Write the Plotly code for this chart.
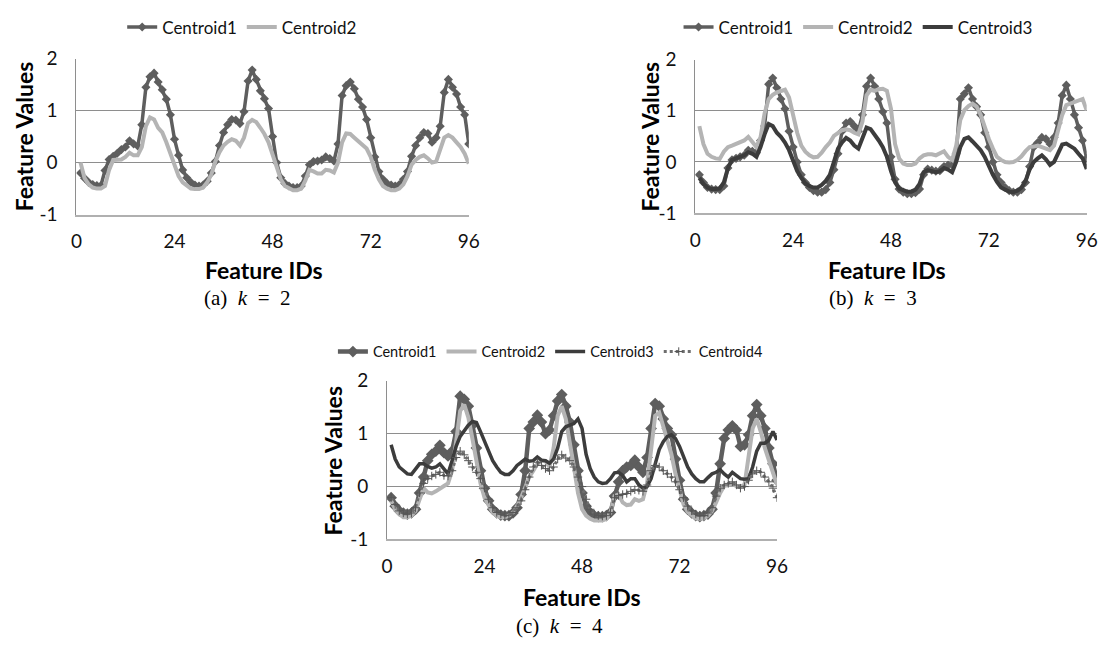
import plotly.graph_objects as go

W, H = 1110, 653

feature_ids = list(range(1, 97))
x_ticks = [0, 24, 48, 72, 96]
y_ticks = [-1, 0, 1, 2]
y_tick_text = ["-1", "0", "1", "2"]

# ---- k = 2 ----
k2_centroid1 = [
    -0.2, -0.3, -0.38, -0.42, -0.44, -0.44, -0.15, 0.06, 0.12, 0.18,
    0.25, 0.3, 0.42, 0.36, 0.32, 0.73, 1.45, 1.65, 1.72, 1.55,
    1.4, 1.22, 0.92, 0.45, 0.14, -0.14, -0.29, -0.38, -0.43, -0.45,
    -0.43, -0.36, -0.2, 0.02, 0.33, 0.58, 0.73, 0.83, 0.82, 0.75,
    0.98, 1.57, 1.78, 1.6, 1.38, 1.23, 1.04, 0.5, 0.0, -0.29,
    -0.4, -0.45, -0.48, -0.48, -0.45, -0.26, -0.04, 0.02, 0.03, 0.05,
    0.11, 0.08, 0.03, 0.36, 1.29, 1.48, 1.55, 1.42, 1.22, 1.07,
    0.83, 0.48, 0.11, -0.17, -0.32, -0.4, -0.43, -0.45, -0.42, -0.32,
    -0.17, 0.12, 0.33, 0.48, 0.58, 0.56, 0.39, 0.48, 0.7, 1.35,
    1.6, 1.45, 1.32, 1.07, 0.92, 0.36,
]
k2_centroid2 = [
    0.0, -0.3, -0.42, -0.48, -0.5, -0.5, -0.45, -0.14, 0.05, 0.06,
    0.06, 0.11, 0.19, 0.14, 0.14, 0.3, 0.7, 0.87, 0.83, 0.67,
    0.58, 0.39, 0.17, -0.07, -0.26, -0.38, -0.45, -0.5, -0.51, -0.51,
    -0.48, -0.38, -0.23, 0.02, 0.2, 0.33, 0.4, 0.45, 0.42, 0.33,
    0.48, 0.76, 0.82, 0.78, 0.67, 0.55, 0.39, 0.17, -0.1, -0.32,
    -0.45, -0.5, -0.53, -0.53, -0.5, -0.35, -0.14, -0.17, -0.21, -0.21,
    -0.14, -0.15, -0.19, 0.0, 0.39, 0.56, 0.55, 0.48, 0.41, 0.35,
    0.27, 0.11, -0.14, -0.32, -0.45, -0.5, -0.53, -0.53, -0.5, -0.42,
    -0.26, -0.04, 0.05, 0.11, 0.14, 0.08, 0.0, 0.02, 0.24, 0.48,
    0.53, 0.48, 0.39, 0.3, 0.17, -0.02,
]

# ---- k = 3 ----
k3_centroid1 = [
    -0.25, -0.4, -0.5, -0.53, -0.54, -0.54, -0.47, -0.12, 0.04, 0.07,
    0.1, 0.13, 0.23, 0.21, 0.18, 0.42, 0.7, 1.52, 1.64, 1.45,
    1.23, 1.04, 0.6, 0.29, 0.0, -0.25, -0.4, -0.5, -0.56, -0.59,
    -0.59, -0.54, -0.4, -0.15, 0.16, 0.6, 0.76, 0.79, 0.7, 0.6,
    0.92, 1.48, 1.64, 1.48, 1.23, 0.98, 0.76, 0.1, -0.34, -0.53,
    -0.59, -0.62, -0.62, -0.6, -0.53, -0.25, -0.14, -0.16, -0.18, -0.17,
    -0.09, -0.06, -0.06, 0.16, 1.23, 1.33, 1.45, 1.23, 1.08, 0.92,
    0.57, 0.29, 0.0, -0.25, -0.4, -0.5, -0.56, -0.59, -0.59, -0.54,
    -0.4, -0.09, 0.29, 0.38, 0.48, 0.45, 0.35, 0.48, 0.76, 1.3,
    1.5, 1.23, 0.92, 0.67, 0.42, 0.07,
]
k3_centroid2 = [
    0.7, 0.35, 0.16, 0.1, 0.07, 0.06, 0.2, 0.29, 0.32, 0.36,
    0.4, 0.42, 0.49, 0.38, 0.29, 0.48, 0.95, 1.23, 1.31, 1.36,
    1.39, 1.41, 1.26, 0.92, 0.57, 0.32, 0.2, 0.13, 0.09, 0.1,
    0.18, 0.29, 0.38, 0.51, 0.57, 0.62, 0.64, 0.62, 0.57, 0.54,
    0.79, 1.3, 1.41, 1.39, 1.42, 1.43, 1.39, 1.04, 0.35, 0.07,
    -0.03, -0.06, -0.06, -0.03, 0.07, 0.13, 0.15, 0.15, 0.13, 0.16,
    0.21, 0.1, 0.04, 0.32, 0.82, 1.01, 1.09, 1.14, 1.08, 0.92,
    0.67, 0.45, 0.26, 0.1, 0.04, 0.0, -0.01, 0.0, 0.04, 0.11,
    0.21, 0.29, 0.3, 0.32, 0.29, 0.26, 0.23, 0.32, 0.6, 0.92,
    1.11, 1.14, 1.17, 1.2, 1.23, 1.01,
]
k3_centroid3 = [
    -0.31, -0.43, -0.5, -0.53, -0.53, -0.52, -0.4, -0.12, 0.04, 0.07,
    0.09, 0.13, 0.19, 0.16, 0.1, 0.29, 0.54, 0.74, 0.7, 0.57,
    0.49, 0.38, 0.23, 0.0, -0.18, -0.31, -0.42, -0.47, -0.5, -0.5,
    -0.45, -0.37, -0.25, 0.0, 0.26, 0.38, 0.47, 0.42, 0.32, 0.26,
    0.45, 0.67, 0.64, 0.54, 0.42, 0.29, 0.1, -0.18, -0.4, -0.52,
    -0.56, -0.58, -0.58, -0.54, -0.43, -0.2, -0.16, -0.18, -0.2, -0.18,
    -0.12, -0.15, -0.2, 0.0, 0.29, 0.45, 0.48, 0.4, 0.32, 0.23,
    0.1, -0.09, -0.25, -0.39, -0.5, -0.54, -0.58, -0.59, -0.56, -0.5,
    -0.37, -0.15, 0.0, 0.07, 0.13, 0.05, -0.06, 0.0, 0.19, 0.34,
    0.36, 0.32, 0.26, 0.16, 0.07, -0.14,
]

# ---- k = 4 ----
k4_centroid1 = [
    -0.21, -0.37, -0.46, -0.5, -0.52, -0.5, -0.43, -0.12, 0.18, 0.49,
    0.61, 0.67, 0.78, 0.64, 0.58, 0.67, 1.04, 1.71, 1.65, 1.52,
    1.16, 0.73, 0.3, -0.03, -0.27, -0.43, -0.5, -0.54, -0.55, -0.55,
    -0.5, -0.4, -0.15, 0.3, 1.1, 1.22, 1.35, 1.22, 1.0, 1.07,
    1.34, 1.62, 1.74, 1.52, 1.22, 0.79, 0.3, -0.12, -0.37, -0.49,
    -0.55, -0.57, -0.57, -0.55, -0.49, -0.18, 0.09, 0.3, 0.37, 0.4,
    0.5, 0.37, 0.27, 0.55, 1.1, 1.57, 1.52, 1.28, 1.1, 0.98,
    0.52, 0.12, -0.24, -0.43, -0.5, -0.55, -0.57, -0.55, -0.52, -0.43,
    -0.12, 0.43, 0.91, 1.07, 1.15, 1.07, 0.76, 0.79, 0.98, 1.34,
    1.55, 1.34, 1.1, 0.73, 0.43, 0.12,
]
k4_centroid2 = [
    -0.27, -0.43, -0.52, -0.58, -0.58, -0.55, -0.46, -0.27, -0.03, -0.11,
    -0.13, -0.09, -0.03, 0.01, 0.06, 0.3, 0.85, 1.43, 1.55, 1.31,
    0.91, 0.46, 0.06, -0.21, -0.37, -0.49, -0.55, -0.58, -0.58, -0.55,
    -0.49, -0.37, -0.21, 0.0, 0.18, 0.3, 0.43, 0.49, 0.48, 0.37,
    0.73, 1.34, 1.52, 1.28, 0.85, 0.37, -0.12, -0.43, -0.55, -0.61,
    -0.64, -0.64, -0.64, -0.61, -0.49, -0.18, -0.15, -0.3, -0.35, -0.34,
    -0.24, -0.27, -0.24, 0.06, 0.73, 1.34, 1.4, 1.13, 0.88, 0.61,
    0.24, -0.09, -0.34, -0.48, -0.55, -0.6, -0.61, -0.6, -0.55, -0.46,
    -0.3, -0.12, 0.01, 0.03, 0.05, 0.01, 0.0, 0.03, 0.61, 1.1,
    1.28, 1.04, 0.73, 0.49, 0.24, 0.03,
]
k4_centroid3 = [
    0.79, 0.52, 0.37, 0.3, 0.24, 0.23, 0.34, 0.43, 0.43, 0.38,
    0.35, 0.37, 0.43, 0.34, 0.24, 0.49, 0.76, 0.95, 1.07, 1.16,
    1.23, 1.21, 1.04, 0.85, 0.64, 0.49, 0.37, 0.27, 0.23, 0.23,
    0.3, 0.4, 0.46, 0.52, 0.48, 0.49, 0.56, 0.5, 0.49, 0.44,
    0.52, 0.73, 1.04, 1.13, 1.16, 1.19, 1.28, 1.1, 0.61, 0.34,
    0.18, 0.09, 0.06, 0.07, 0.15, 0.26, 0.27, 0.21, 0.09, 0.15,
    0.15, 0.03, -0.03, 0.0, 0.15, 0.43, 0.7, 0.85, 0.95, 0.98,
    0.91, 0.76, 0.55, 0.37, 0.24, 0.15, 0.09, 0.09, 0.17, 0.24,
    0.27, 0.32, 0.24, 0.18, 0.27, 0.2, 0.15, 0.14, 0.15, 0.37,
    0.67, 0.82, 0.82, 0.88, 1.04, 0.88,
]
k4_centroid4 = [
    -0.21, -0.34, -0.46, -0.5, -0.52, -0.5, -0.4, -0.12, 0.06, 0.15,
    0.2, 0.23, 0.27, 0.21, 0.2, 0.3, 0.55, 0.67, 0.6, 0.49,
    0.37, 0.27, 0.15, -0.03, -0.24, -0.4, -0.49, -0.52, -0.55, -0.54,
    -0.49, -0.4, -0.27, -0.06, 0.18, 0.37, 0.46, 0.4, 0.34, 0.3,
    0.37, 0.52, 0.6, 0.54, 0.49, 0.37, 0.18, 0.0, -0.24, -0.43,
    -0.52, -0.55, -0.56, -0.55, -0.49, -0.21, -0.17, -0.15, -0.13, -0.09,
    -0.06, -0.07, -0.09, 0.03, 0.3, 0.4, 0.37, 0.3, 0.24, 0.18,
    0.09, -0.06, -0.21, -0.37, -0.46, -0.52, -0.55, -0.55, -0.5, -0.4,
    -0.18, -0.03, 0.03, 0.06, 0.09, 0.03, -0.03, 0.0, 0.12, 0.24,
    0.3, 0.27, 0.18, 0.09, -0.03, -0.21,
]

DARK_GRAY = "#5e5e5e"
LIGHT_GRAY = "#b4b4b4"
DARKEST = "#3c3c3c"
DOT_GRAY = "#6e6e6e"
TICK_FONT = dict(family="Lato", size=19, color="#111111")


def px(x):
    return x / W


def py(y):
    return 1 - y / H


fig = go.Figure()


def centroid1(ax, ys, lg, width=3.5, msize=7):
    return go.Scatter(
        x=feature_ids, y=ys, name="Centroid1", mode="lines+markers",
        line=dict(color=DARK_GRAY, width=width),
        marker=dict(symbol="diamond", size=msize, color=DARK_GRAY),
        xaxis="x" + ax, yaxis="y" + ax, legend=lg,
    )


def plain(ax, ys, name, color, lg, width=3.5):
    return go.Scatter(
        x=feature_ids, y=ys, name=name, mode="lines",
        line=dict(color=color, width=width),
        xaxis="x" + ax, yaxis="y" + ax, legend=lg,
    )


# panel (a)
fig.add_trace(centroid1("", k2_centroid1, "legend"))
fig.add_trace(plain("", k2_centroid2, "Centroid2", LIGHT_GRAY, "legend", 4))
# panel (b)
fig.add_trace(centroid1("2", k3_centroid1, "legend2"))
fig.add_trace(plain("2", k3_centroid2, "Centroid2", LIGHT_GRAY, "legend2", 4))
fig.add_trace(plain("2", k3_centroid3, "Centroid3", DARKEST, "legend2", 4))
# panel (c)
fig.add_trace(centroid1("3", k4_centroid1, "legend3", width=4.5, msize=9))
fig.add_trace(plain("3", k4_centroid2, "Centroid2", LIGHT_GRAY, "legend3", 4))
fig.add_trace(plain("3", k4_centroid3, "Centroid3", DARKEST, "legend3", 3.5))
fig.add_trace(go.Scatter(
    x=feature_ids, y=k4_centroid4, name="Centroid4", mode="lines+markers",
    line=dict(color=DOT_GRAY, width=3, dash="dot"),
    marker=dict(symbol="cross-thin", size=6, line=dict(color="#555555", width=1)),
    xaxis="x3", yaxis="y3", legend="legend3",
))

# plot areas in pixels: (left, right, top, bottom)
areas = {
    "": (71.5, 470, 48.3, 210),
    "2": (700, 1097.5, 49.3, 208.5),
    "3": (387, 783, 382.3, 546.7),
}

layout = dict(
    width=W, height=H, margin=dict(l=0, r=0, t=0, b=0),
    paper_bgcolor="white", plot_bgcolor="white", showlegend=True,
)
for key, (l, r, t, b) in areas.items():
    layout["xaxis" + key] = dict(
        domain=[px(l), px(r)], range=[0, 96], tickvals=x_ticks,
        showgrid=False, zeroline=False, showline=True,
        linecolor="#b0b0b0", linewidth=2, ticks="",
        tickfont=TICK_FONT, ticklabelstandoff=9,
        anchor="y" + key, fixedrange=True,
    )
    layout["yaxis" + key] = dict(
        domain=[py(b), py(t)], range=[-1, 2], tickvals=y_ticks,
        ticktext=y_tick_text, showgrid=True, gridcolor="#8e8e8e",
        gridwidth=1, zeroline=False, showline=True, linecolor="#8e8e8e",
        linewidth=1, ticks="", tickfont=TICK_FONT, ticklabelstandoff=14,
        anchor="x" + key, fixedrange=True,
    )

legend_common = dict(
    orientation="h", xanchor="left", yanchor="middle",
    bgcolor="rgba(0,0,0,0)", itemwidth=30, tracegroupgap=0,
)
big_legend_font = dict(family="Lato", size=17, color="#111111")
small_legend_font = dict(family="Lato", size=14.5, color="#111111")
layout["legend"] = dict(legend_common, x=px(118), y=py(16), font=big_legend_font)
layout["legend2"] = dict(legend_common, x=px(683), y=py(16), font=big_legend_font)
layout["legend3"] = dict(legend_common, x=px(332), y=py(352), font=small_legend_font)

annotations = []
title_font = dict(family="Lato", size=23, color="#000000")
cap_font = dict(family="Liberation Serif", size=21, color="#000000")
for (yx, yy, xx, xy, cx, cy, cap) in [
    (19, 129, 262, 267, 245, 296, "(a)&nbsp;&nbsp;<i>k</i>&nbsp;&nbsp;=&nbsp;&nbsp;2"),
    (654, 129, 895, 267, 880, 296, "(b)&nbsp;&nbsp;<i>k</i>&nbsp;&nbsp;=&nbsp;&nbsp;3"),
    (332, 465, 585, 606, 562, 636, "(c)&nbsp;&nbsp;<i>k</i>&nbsp;&nbsp;=&nbsp;&nbsp;4"),
]:
    annotations.append(dict(
        text="<b>Feature Values</b>", textangle=-90, x=px(yx), y=py(yy),
        xref="paper", yref="paper", showarrow=False, font=title_font,
        xanchor="center", yanchor="middle",
    ))
    annotations.append(dict(
        text="<b>Feature IDs</b>", x=px(xx), y=py(xy), xref="paper",
        yref="paper", showarrow=False, font=title_font,
        xanchor="center", yanchor="middle",
    ))
    annotations.append(dict(
        text=cap, x=px(cx), y=py(cy), xref="paper", yref="paper",
        showarrow=False, font=cap_font, xanchor="center", yanchor="middle",
    ))
layout["annotations"] = annotations

fig.update_layout(**layout)
fig.write_html("out.html")
